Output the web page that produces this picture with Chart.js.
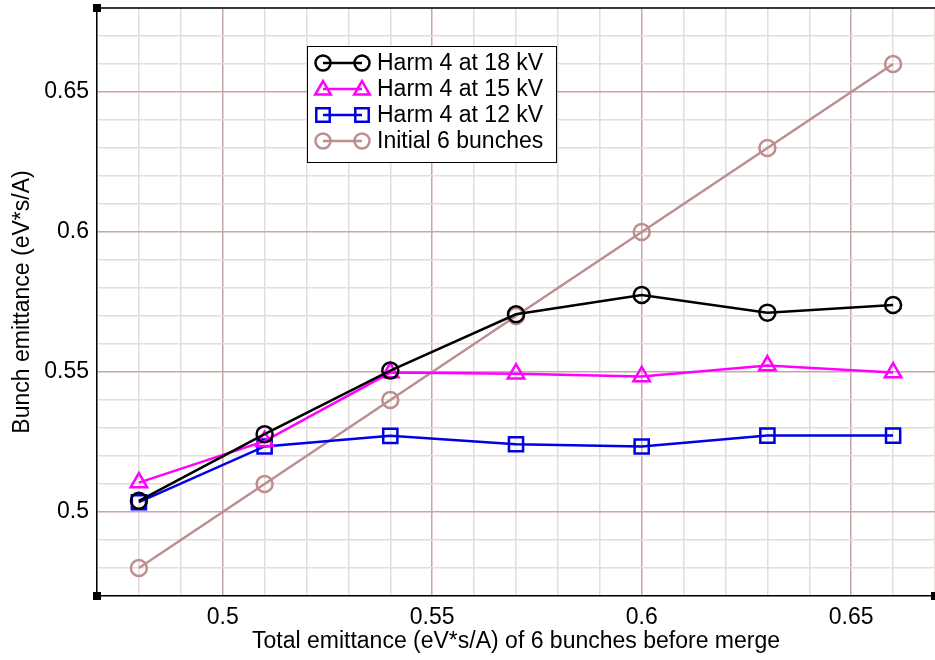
<!DOCTYPE html>
<html>
<head>
<meta charset="utf-8">
<script src="https://cdn.jsdelivr.net/npm/chart.js@4/dist/chart.umd.min.js"></script>
<style>
  html, body { margin: 0; padding: 0; background: #fff; }
  #wrap { width: 935px; height: 660px; overflow: hidden; }
</style>
</head>
<body>
<div id="wrap"><canvas id="c" width="935" height="660"></canvas></div>
<script>
// Total emittance of the 6 bunches before merging (eV*s/A)
const totalEmittance = [0.48, 0.51, 0.54, 0.57, 0.60, 0.63, 0.66];
// Bunch emittance after merging, one series per harmonic-4 voltage
const harm18kV = [0.504, 0.5278, 0.5505, 0.5706, 0.5775, 0.5712, 0.5739];
const harm15kV = [0.5105, 0.5253, 0.5498, 0.5494, 0.5484, 0.5523, 0.5498];
const harm12kV = [0.5035, 0.5234, 0.5272, 0.5242, 0.5234, 0.5273, 0.5273];
// Reference line: emittance of the initial bunches
const initialBunches = [0.48, 0.51, 0.54, 0.57, 0.60, 0.63, 0.66];

const seriesNames = ['Harm 4 at 18 kV', 'Harm 4 at 15 kV', 'Harm 4 at 12 kV', 'Initial 6 bunches'];
const labelledTicks = [0.5, 0.55, 0.6, 0.65];
const gridStep = 0.01;

const FONT = '"Liberation Sans", Arial, Helvetica, sans-serif';
const FONT_SIZE = 23;

const toPoints = (ys) => ys.map((y, i) => ({ x: totalEmittance[i], y }));

const isMajor = (v) => labelledTicks.some(t => Math.abs(t - v) < 1e-6);
const tickText = (v) => isMajor(v) ? String(+v.toFixed(2)) : '';
const gridColor = (ctx) => (ctx.tick && isMajor(ctx.tick.value)) ? '#c9a6a6' : '#e6dcdc';

// one tick (and grid line) per 0.01 across the axis range
function fineTicks(scale) {
  const n = Math.round((scale.max - scale.min) / gridStep);
  const ticks = [];
  for (let i = 0; i <= n; i++) ticks.push({ value: +(scale.min + i * gridStep).toFixed(4) });
  scale.ticks = ticks;
}

const styles = [
  { color: '#000000', style: 'circle', radius: 8, width: 2.5 },
  { color: '#ff00ff', style: 'triangle', radius: 9.5, width: 2.5 },
  { color: '#0000e6', style: 'rect', radius: 10, width: 2.5 },
  { color: '#bc8f8f', style: 'circle', radius: 8, width: 2.5 }
];
const seriesData = [harm18kV, harm15kV, harm12kV, initialBunches];

const datasets = seriesData.map((ys, i) => ({
  label: seriesNames[i],
  data: toPoints(ys),
  borderColor: styles[i].color,
  backgroundColor: 'rgba(0,0,0,0)',
  borderWidth: styles[i].width,
  pointStyle: styles[i].style,
  pointRadius: styles[i].radius,
  pointHoverRadius: styles[i].radius,
  pointBorderColor: styles[i].color,
  pointBackgroundColor: 'rgba(0,0,0,0)',
  pointBorderWidth: styles[i].width,
  tension: 0,
  fill: false,
  clip: false
}));

// Draws one unfilled marker
function marker(ctx, style, x, y, r) {
  ctx.beginPath();
  if (style === 'circle') {
    ctx.arc(x, y, r, 0, Math.PI * 2);
  } else if (style === 'triangle') {
    for (let k = 0; k < 3; k++) {
      const a = k * 2 * Math.PI / 3;
      const px = x + Math.sin(a) * r, py = y - Math.cos(a) * r;
      if (k === 0) ctx.moveTo(px, py); else ctx.lineTo(px, py);
    }
    ctx.closePath();
  } else {
    const s = Math.SQRT1_2 * r;
    ctx.rect(x - s, y - s, 2 * s, 2 * s);
  }
  ctx.stroke();
}

const framePlugin = {
  id: 'frame',
  afterDraw(chart) {
    const { ctx, chartArea: a } = chart;
    ctx.save();
    // top frame line
    ctx.strokeStyle = '#000';
    ctx.lineWidth = 1.5;
    ctx.beginPath();
    ctx.moveTo(a.left, a.top);
    ctx.lineTo(a.right, a.top);
    ctx.stroke();
    // corner handles
    ctx.fillStyle = '#000';
    [[a.left, a.top], [a.left, a.bottom], [a.right, a.bottom]].forEach(([x, y]) => {
      ctx.fillRect(x - 4, y - 4, 8, 8);
    });

    // legend box with two-marker samples
    const bx = 307, by = 46, bw = 249, bh = 116;
    ctx.fillStyle = '#fff';
    ctx.fillRect(bx, by, bw, bh);
    ctx.strokeStyle = '#000';
    ctx.lineWidth = 1;
    ctx.strokeRect(bx + 0.5, by + 0.5, bw, bh);
    ctx.font = FONT_SIZE + 'px ' + FONT;
    ctx.textBaseline = 'middle';
    ctx.textAlign = 'left';
    chart.data.datasets.forEach((ds, i) => {
      const y = by + 17 + i * 26;
      const st = styles[i];
      ctx.strokeStyle = st.color;
      ctx.lineWidth = 2.5;
      ctx.beginPath();
      ctx.moveTo(323, y);
      ctx.lineTo(362, y);
      ctx.stroke();
      const r = st.style === 'rect' ? 9.5 : (st.style === 'triangle' ? 9 : 7.5);
      const my = st.style === 'triangle' ? y + 1 : y;
      marker(ctx, st.style, 323, my, r);
      marker(ctx, st.style, 362, my, r);
      ctx.fillStyle = '#000';
      ctx.fillText(ds.label, 377, y + 1);
    });
    ctx.restore();
  }
};

new Chart(document.getElementById('c'), {
  type: 'line',
  data: { datasets },
  options: {
    responsive: false,
    devicePixelRatio: 1,
    animation: false,
    events: [],
    layout: { autoPadding: false, padding: { top: 8, right: -3, left: 0, bottom: 0 } },
    plugins: { legend: { display: false }, tooltip: { enabled: false } },
    scales: {
      x: {
        type: 'linear',
        min: 0.47,
        max: 0.67,
        afterBuildTicks: fineTicks,
        afterFit(s) { s.height = 64; s.paddingLeft = 0; s.paddingRight = 0; },
        ticks: {
          autoSkip: false,
          maxRotation: 0,
          padding: 8,
          color: '#000',
          font: { family: FONT, size: FONT_SIZE },
          callback: (v) => tickText(v)
        },
        grid: { color: gridColor, lineWidth: 1.5, drawTicks: false },
        border: { display: true, color: '#000', width: 1.5 },
        title: {
          display: true,
          text: 'Total emittance (eV*s/A) of 6 bunches before merge',
          color: '#000',
          font: { family: FONT, size: FONT_SIZE },
          padding: { top: 0, bottom: 5 }
        }
      },
      y: {
        type: 'linear',
        min: 0.47,
        max: 0.68,
        afterBuildTicks: fineTicks,
        afterFit(s) { s.width = 97; s.paddingTop = 0; s.paddingBottom = 0; },
        ticks: {
          autoSkip: false,
          padding: 8,
          color: '#000',
          font: { family: FONT, size: FONT_SIZE },
          callback: (v) => tickText(v)
        },
        grid: { color: gridColor, lineWidth: 1.5, drawTicks: false },
        border: { display: true, color: '#000', width: 1.5 },
        title: {
          display: true,
          text: 'Bunch emittance (eV*s/A)',
          color: '#000',
          font: { family: FONT, size: FONT_SIZE },
          padding: { top: 9, bottom: 0 }
        }
      }
    }
  },
  plugins: [framePlugin]
});
</script>
</body>
</html>
